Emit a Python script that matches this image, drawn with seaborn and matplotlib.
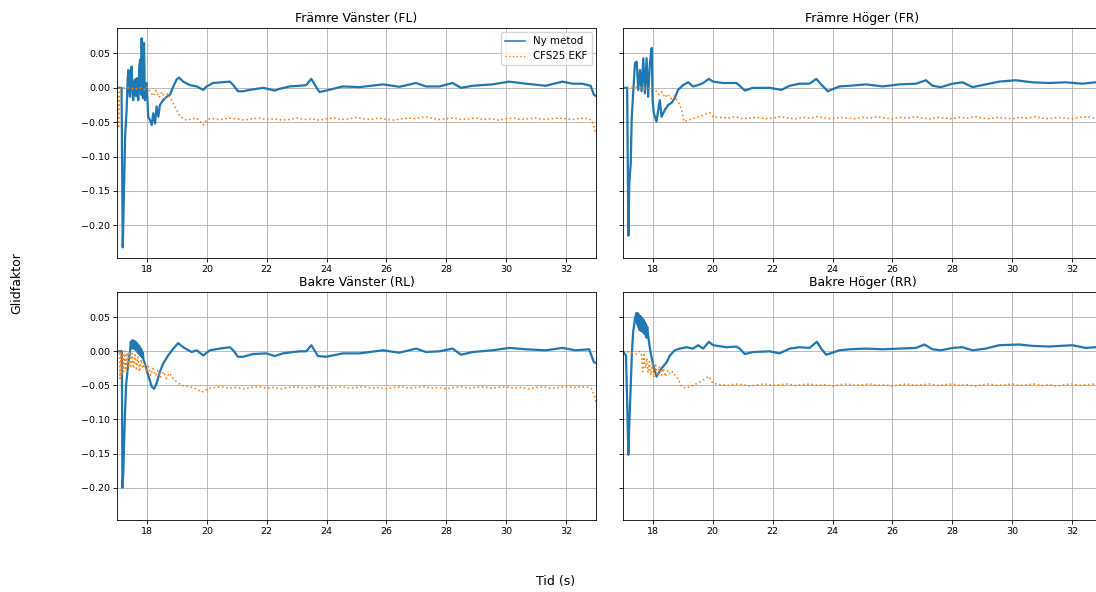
import numpy as np
import matplotlib
matplotlib.use("Agg")
import matplotlib.pyplot as plt
import seaborn as sns

# ---------------------------------------------------------------------------
# Slip factor estimates per wheel: new method vs. CFS25 EKF
# ---------------------------------------------------------------------------
LABEL_NEW = "Ny metod"
LABEL_EKF = "CFS25 EKF"
TITLES = ["Främre Vänster (FL)", "Främre Höger (FR)",
          "Bakre Vänster (RL)", "Bakre Höger (RR)"]
X_LABEL = "Tid (s)"
Y_LABEL = "Glidfaktor"
X_TICKS = [18, 20, 22, 24, 26, 28, 30, 32]
Y_TICKS = [-0.20, -0.15, -0.10, -0.05, 0.00, 0.05]

# --- Front left -------------------------------------------------------------
fl_new_t = [17.00, 17.15, 17.19, 17.23, 17.27, 17.32, 17.35, 17.38, 17.41, 17.43,
            17.46, 17.49, 17.52, 17.54, 17.57, 17.60, 17.63, 17.66, 17.69, 17.71,
            17.74, 17.77, 17.80, 17.82, 17.86, 17.90, 17.93, 17.99, 18.04, 18.10,
            18.16, 18.21, 18.27, 18.32, 18.38, 18.43, 18.54, 18.66, 18.77, 18.88,
            18.99, 19.07, 19.21, 19.43, 19.66, 19.88, 19.99, 20.21, 20.77, 20.88,
            21.04, 21.21, 21.43, 21.88, 22.27, 22.43, 22.77, 23.10, 23.32, 23.49,
            23.71, 23.77, 23.99, 24.54, 25.10, 25.88, 26.43, 26.99, 27.32, 27.77,
            28.21, 28.49, 28.88, 29.54, 30.10, 30.66, 31.32, 31.88, 32.21, 32.54,
            32.82, 32.93, 33.00]
fl_new_v = [0.000, 0.000, -0.232, -0.154, -0.071, -0.032, 0.010, 0.026, -0.005, -0.013,
            0.020, 0.031, -0.010, -0.018, 0.008, 0.012, -0.012, 0.014, -0.008, -0.018,
            0.030, 0.041, -0.010, 0.072, -0.015, 0.065, -0.018, 0.007, -0.042, -0.047,
            -0.054, -0.037, -0.052, -0.027, -0.042, -0.025, -0.018, -0.013, -0.010, 0.002,
            0.012, 0.015, 0.009, 0.004, 0.002, -0.003, 0.002, 0.007, 0.009, 0.004,
            -0.005, -0.005, -0.003, 0.000, -0.004, -0.0015, 0.002, 0.003, 0.004, 0.013,
            -0.003, -0.006, -0.004, 0.002, 0.001, 0.005, 0.0015, 0.007, 0.002, 0.002,
            0.007, 0.000, 0.003, 0.005, 0.009, 0.006, 0.003, 0.009, 0.006, 0.006,
            0.003, -0.010, -0.012]

fl_ekf_t = [17.00, 17.03, 17.05, 17.08, 17.10, 17.40, 17.60, 17.80, 17.95, 18.00,
            18.10, 18.20, 18.30, 18.40, 18.50, 18.60, 18.70, 18.77, 18.82, 18.99,
            19.10, 19.32, 19.50, 19.66, 19.88, 19.99, 20.10]
fl_ekf_v = [0.000, -0.002, -0.059, -0.010, 0.000, 0.000, -0.002, 0.000, -0.003, 0.001,
            -0.005, -0.012, -0.004, -0.014, -0.006, -0.015, -0.008, -0.016, -0.018, -0.032,
            -0.042, -0.047, -0.045, -0.044, -0.054, -0.047, -0.045]
fl_ekf_late = [-0.045, -0.046, -0.044, -0.045, -0.047, -0.045, -0.044, -0.046, -0.045, -0.047,
               -0.046, -0.044, -0.046, -0.045, -0.047, -0.045, -0.044, -0.046, -0.045, -0.043,
               -0.045, -0.046, -0.044, -0.046, -0.047, -0.045, -0.044, -0.045, -0.042, -0.044,
               -0.046, -0.045, -0.044, -0.046, -0.045, -0.044, -0.046, -0.045, -0.047, -0.045,
               -0.044, -0.046, -0.045, -0.044, -0.046, -0.045, -0.044, -0.045, -0.046, -0.044,
               -0.045]
fl_ekf_tail_t = [32.85, 32.92, 33.00]
fl_ekf_tail_v = [-0.047, -0.055, -0.068]

# --- Front right ------------------------------------------------------------
fr_new_t = [17.00, 17.14, 17.18, 17.21, 17.26, 17.29, 17.34, 17.40, 17.46, 17.51,
            17.57, 17.62, 17.68, 17.73, 17.79, 17.84, 17.90, 17.96, 17.99, 18.03,
            18.12, 18.18, 18.23, 18.29, 18.40, 18.51, 18.62, 18.73, 18.84, 19.01,
            19.18, 19.34, 19.51, 19.68, 19.87, 20.01, 20.34, 20.79, 20.90, 21.07,
            21.34, 21.90, 22.29, 22.57, 22.90, 23.23, 23.46, 23.62, 23.84, 24.23,
            24.57, 25.12, 25.68, 26.23, 26.79, 27.12, 27.34, 27.62, 28.01, 28.34,
            28.68, 29.12, 29.57, 30.12, 30.68, 31.23, 31.79, 32.34, 32.77, 33.00]
fr_new_v = [0.000, 0.000, -0.215, -0.139, -0.110, -0.047, -0.008, 0.036, 0.038, -0.003,
            0.026, -0.005, 0.043, -0.008, 0.043, -0.013, 0.036, 0.058, -0.018, -0.037,
            -0.049, -0.032, -0.018, -0.042, -0.032, -0.025, -0.022, -0.015, -0.003, 0.004,
            0.008, 0.002, 0.004, 0.007, 0.013, 0.009, 0.007, 0.007, 0.003, -0.004,
            0.000, 0.000, -0.003, 0.003, 0.006, 0.006, 0.013, 0.005, -0.005, 0.002,
            0.003, 0.005, 0.002, 0.005, 0.006, 0.011, 0.003, 0.001, 0.006, 0.008,
            0.001, 0.005, 0.009, 0.011, 0.008, 0.007, 0.008, 0.006, 0.008, 0.007]

fr_ekf_t = [17.00, 17.50, 17.80, 18.00, 18.10, 18.20, 18.30, 18.40, 18.50, 18.60,
            18.70, 18.84, 18.96, 19.04, 19.18, 19.40, 19.62, 19.90, 20.01]
fr_ekf_v = [0.000, 0.001, -0.001, 0.000, -0.004, -0.010, -0.006, -0.014, -0.009, -0.016,
            -0.012, -0.020, -0.032, -0.049, -0.047, -0.044, -0.041, -0.036, -0.042]
fr_ekf_late = [-0.043, -0.044, -0.042, -0.045, -0.044, -0.043, -0.045, -0.044, -0.042, -0.044,
               -0.045, -0.043, -0.044, -0.042, -0.044, -0.045, -0.043, -0.044, -0.045, -0.043,
               -0.044, -0.042, -0.044, -0.045, -0.043, -0.044, -0.042, -0.044, -0.045, -0.043,
               -0.044, -0.045, -0.043, -0.044, -0.042, -0.044, -0.045, -0.043, -0.044, -0.045,
               -0.043, -0.044, -0.042, -0.044, -0.045, -0.043, -0.044, -0.045, -0.043, -0.042,
               -0.044]
fr_ekf_tail_t = [33.00]
fr_ekf_tail_v = [-0.043]

# --- Rear left --------------------------------------------------------------
rl_new_t = [17.00, 17.16, 17.18, 17.21, 17.26, 17.30, 17.38, 17.43, 17.46, 17.48,
            17.50, 17.52, 17.54, 17.56, 17.58, 17.60, 17.62, 17.64, 17.66, 17.68,
            17.70, 17.72, 17.74, 17.76, 17.78, 17.80, 17.82, 17.84, 17.86, 17.88,
            17.93, 18.04, 18.16, 18.24, 18.32, 18.43, 18.54, 18.71, 18.88, 19.04,
            19.21, 19.49, 19.66, 19.88, 20.10, 20.43, 20.77, 20.88, 21.04, 21.21,
            21.54, 21.99, 22.27, 22.54, 22.88, 23.10, 23.32, 23.49, 23.71, 23.99,
            24.54, 25.10, 25.88, 26.43, 26.99, 27.32, 27.77, 28.21, 28.49, 28.88,
            29.54, 30.10, 30.66, 31.32, 31.88, 32.32, 32.77, 32.93, 33.00]
rl_new_v = [0.000, 0.000, -0.200, -0.176, -0.098, -0.050, -0.016, -0.001, 0.014, 0.004,
            0.016, 0.005, 0.016, 0.004, 0.015, 0.003, 0.014, 0.001, 0.012, -0.001,
            0.010, -0.003, 0.008, -0.005, 0.005, -0.007, 0.002, -0.009, -0.002, -0.012,
            -0.018, -0.035, -0.052, -0.055, -0.047, -0.030, -0.018, -0.006, 0.004, 0.012,
            0.006, -0.001, 0.0015, -0.006, 0.0015, 0.004, 0.006, 0.0015, -0.008, -0.008,
            -0.004, -0.003, -0.007, -0.003, -0.001, 0.000, 0.000, 0.009, -0.007, -0.008,
            -0.003, -0.003, 0.0015, -0.002, 0.004, -0.001, 0.000, 0.004, -0.005, -0.001,
            0.0015, 0.005, 0.003, 0.0015, 0.005, 0.0015, 0.003, -0.016, -0.017]

rl_ekf_t = [17.00, 17.08, 17.10, 17.13, 17.16, 17.19, 17.22, 17.26, 17.30, 17.34,
            17.38, 17.42, 17.46, 17.50, 17.55, 17.60, 17.65, 17.70, 17.75, 17.80,
            17.86, 17.92, 17.98, 18.05, 18.12, 18.20, 18.28, 18.36, 18.45, 18.55,
            18.65, 18.75, 18.88, 18.99, 19.16, 19.43, 19.65, 19.82, 20.10]
rl_ekf_v = [0.000, 0.000, -0.040, -0.002, -0.035, -0.005, -0.030, 0.000, -0.028, -0.002,
            -0.025, 0.000, -0.022, -0.003, -0.025, -0.005, -0.028, -0.008, -0.030, -0.012,
            -0.025, -0.018, -0.030, -0.022, -0.035, -0.025, -0.036, -0.028, -0.038, -0.030,
            -0.040, -0.032, -0.040, -0.045, -0.050, -0.052, -0.055, -0.060, -0.054]
rl_ekf_late = [-0.053, -0.052, -0.054, -0.053, -0.055, -0.053, -0.052, -0.054, -0.053, -0.055,
               -0.053, -0.052, -0.054, -0.053, -0.052, -0.054, -0.053, -0.052, -0.054, -0.053,
               -0.052, -0.054, -0.053, -0.055, -0.053, -0.052, -0.054, -0.053, -0.052, -0.054,
               -0.053, -0.055, -0.053, -0.052, -0.054, -0.053, -0.052, -0.054, -0.053, -0.052,
               -0.054, -0.053, -0.055, -0.053, -0.052, -0.054, -0.053, -0.052, -0.053, -0.052,
               -0.053]
rl_ekf_tail_t = [32.85, 32.92, 33.00]
rl_ekf_tail_v = [-0.055, -0.062, -0.074]

# --- Rear right -------------------------------------------------------------
rr_new_t = [17.00, 17.10, 17.14, 17.18, 17.21, 17.26, 17.30, 17.34, 17.40, 17.45,
            17.47, 17.49, 17.51, 17.53, 17.55, 17.57, 17.59, 17.61, 17.63, 17.65,
            17.67, 17.69, 17.71, 17.73, 17.75, 17.77, 17.79, 17.81, 17.84, 17.92,
            18.01, 18.12, 18.18, 18.29, 18.46, 18.57, 18.73, 18.90, 19.12, 19.34,
            19.51, 19.68, 19.87, 20.01, 20.46, 20.79, 20.90, 21.07, 21.34, 21.90,
            22.23, 22.57, 22.90, 23.23, 23.48, 23.62, 23.79, 24.23, 24.57, 25.12,
            25.68, 26.23, 26.79, 27.07, 27.34, 27.62, 28.01, 28.34, 28.68, 29.12,
            29.57, 30.23, 30.68, 31.23, 32.01, 32.46, 32.77, 33.00]
rr_new_v = [0.000, -0.006, -0.074, -0.152, -0.108, -0.050, -0.001, 0.028, 0.048, 0.056,
            0.040, 0.056, 0.036, 0.054, 0.032, 0.052, 0.030, 0.050, 0.030, 0.048,
            0.028, 0.046, 0.026, 0.043, 0.024, 0.040, 0.020, 0.036, 0.023, -0.001,
            -0.020, -0.037, -0.033, -0.025, -0.016, -0.006, 0.0015, 0.004, 0.006, 0.004,
            0.009, 0.004, 0.014, 0.009, 0.006, 0.007, 0.004, -0.004, -0.001, 0.000,
            -0.003, 0.004, 0.006, 0.005, 0.014, 0.004, -0.005, 0.0015, 0.003, 0.004,
            0.003, 0.004, 0.005, 0.010, 0.003, 0.0015, 0.005, 0.006, 0.0015, 0.004,
            0.009, 0.010, 0.008, 0.007, 0.009, 0.005, 0.006, 0.006]

rr_ekf_t = [17.00, 17.10, 17.30, 17.45, 17.55, 17.62, 17.66, 17.70, 17.75, 17.80,
            17.84, 17.88, 17.93, 17.98, 18.03, 18.09, 18.15, 18.21, 18.28, 18.35,
            18.42, 18.50, 18.58, 18.66, 18.75, 18.84, 18.96, 19.12, 19.34, 19.57,
            19.87, 20.01]
rr_ekf_v = [0.000, 0.000, -0.002, -0.004, 0.000, -0.006, -0.030, -0.005, -0.025, -0.010,
            -0.032, -0.015, -0.035, -0.018, -0.037, -0.020, -0.036, -0.022, -0.035, -0.025,
            -0.037, -0.028, -0.034, -0.030, -0.036, -0.040, -0.052, -0.054, -0.050, -0.045,
            -0.037, -0.047]
rr_ekf_late = [-0.049, -0.050, -0.048, -0.049, -0.051, -0.049, -0.048, -0.050, -0.049, -0.048,
               -0.050, -0.049, -0.048, -0.050, -0.049, -0.051, -0.049, -0.048, -0.050, -0.049,
               -0.048, -0.050, -0.049, -0.051, -0.049, -0.048, -0.050, -0.049, -0.048, -0.050,
               -0.049, -0.048, -0.050, -0.049, -0.051, -0.049, -0.048, -0.050, -0.049, -0.048,
               -0.050, -0.049, -0.048, -0.050, -0.049, -0.051, -0.049, -0.048, -0.050, -0.049,
               -0.048]
rr_ekf_tail_t = [33.00]
rr_ekf_tail_v = [-0.049]

# Sample times of the steady-state EKF segment (20.25 s ... 32.75 s)
ekf_late_t = list(np.round(np.arange(20.25, 32.76, 0.25), 2))

COLOR_NEW = "#1f77b4"
COLOR_EKF = "#ff7f0e"

panels = [
    (fl_new_t, fl_new_v, fl_ekf_t + ekf_late_t + fl_ekf_tail_t, fl_ekf_v + fl_ekf_late + fl_ekf_tail_v),
    (fr_new_t, fr_new_v, fr_ekf_t + ekf_late_t + fr_ekf_tail_t, fr_ekf_v + fr_ekf_late + fr_ekf_tail_v),
    (rl_new_t, rl_new_v, rl_ekf_t + ekf_late_t + rl_ekf_tail_t, rl_ekf_v + rl_ekf_late + rl_ekf_tail_v),
    (rr_new_t, rr_new_v, rr_ekf_t + ekf_late_t + rr_ekf_tail_t, rr_ekf_v + rr_ekf_late + rr_ekf_tail_v),
]

plt.rcParams.update({
    "font.family": ["DejaVu Sans"],
    "axes.linewidth": 0.6,
    "xtick.major.width": 0.6,
    "ytick.major.width": 0.6,
    "xtick.major.size": 2.6,
    "ytick.major.size": 2.6,
    "xtick.major.pad": 2.5,
    "ytick.major.pad": 2.5,
    "xtick.labelsize": 6.8,
    "ytick.labelsize": 6.8,
    "grid.color": "#b0b0b0",
    "grid.linewidth": 0.6,
})

fig = plt.figure(figsize=(10.96, 5.92), dpi=100)
rects = [
    [0.1068, 0.5642, 0.4370, 0.3885],
    [0.5684, 0.5642, 0.4370, 0.3885],
    [0.1068, 0.1216, 0.4370, 0.3851],
    [0.5684, 0.1216, 0.4370, 0.3851],
]

for i, (rect, title, (tn, vn, te, ve)) in enumerate(zip(rects, TITLES, panels)):
    ax = fig.add_axes(rect)
    sns.lineplot(x=tn, y=vn, ax=ax, color=COLOR_NEW, linewidth=1.6,
                 estimator=None, sort=False, label=LABEL_NEW if i == 0 else None)
    sns.lineplot(x=te, y=ve, ax=ax, color=COLOR_EKF, linewidth=1.15, linestyle=":",
                 estimator=None, sort=False, label=LABEL_EKF if i == 0 else None)
    ax.set_xlim(17, 33)
    ax.set_ylim(-0.2475, 0.087)
    ax.set_xticks(X_TICKS)
    ax.set_yticks(Y_TICKS)
    ax.grid(True)
    ax.set_axisbelow(True)
    ax.set_xlabel("")
    ax.set_ylabel("")
    ax.set_title(title, fontsize=8.9, pad=4)
    if i % 2 == 1:
        ax.tick_params(labelleft=False)
    if i == 0:
        leg = ax.legend(loc="upper right", fontsize=7.4, borderaxespad=0.4,
                        handlelength=2.0, framealpha=0.8)
        leg.get_lines()[0].set_linewidth(1.1)
        leg.get_lines()[1].set_linewidth(1.0)
    else:
        leg = ax.get_legend()
        if leg is not None:
            leg.remove()

fig.text(0.507, 0.017, X_LABEL, ha="center", va="center", fontsize=9)
fig.text(0.015, 0.522, Y_LABEL, ha="center", va="center", rotation=90, fontsize=9)

fig.savefig("out.png", dpi=100)
